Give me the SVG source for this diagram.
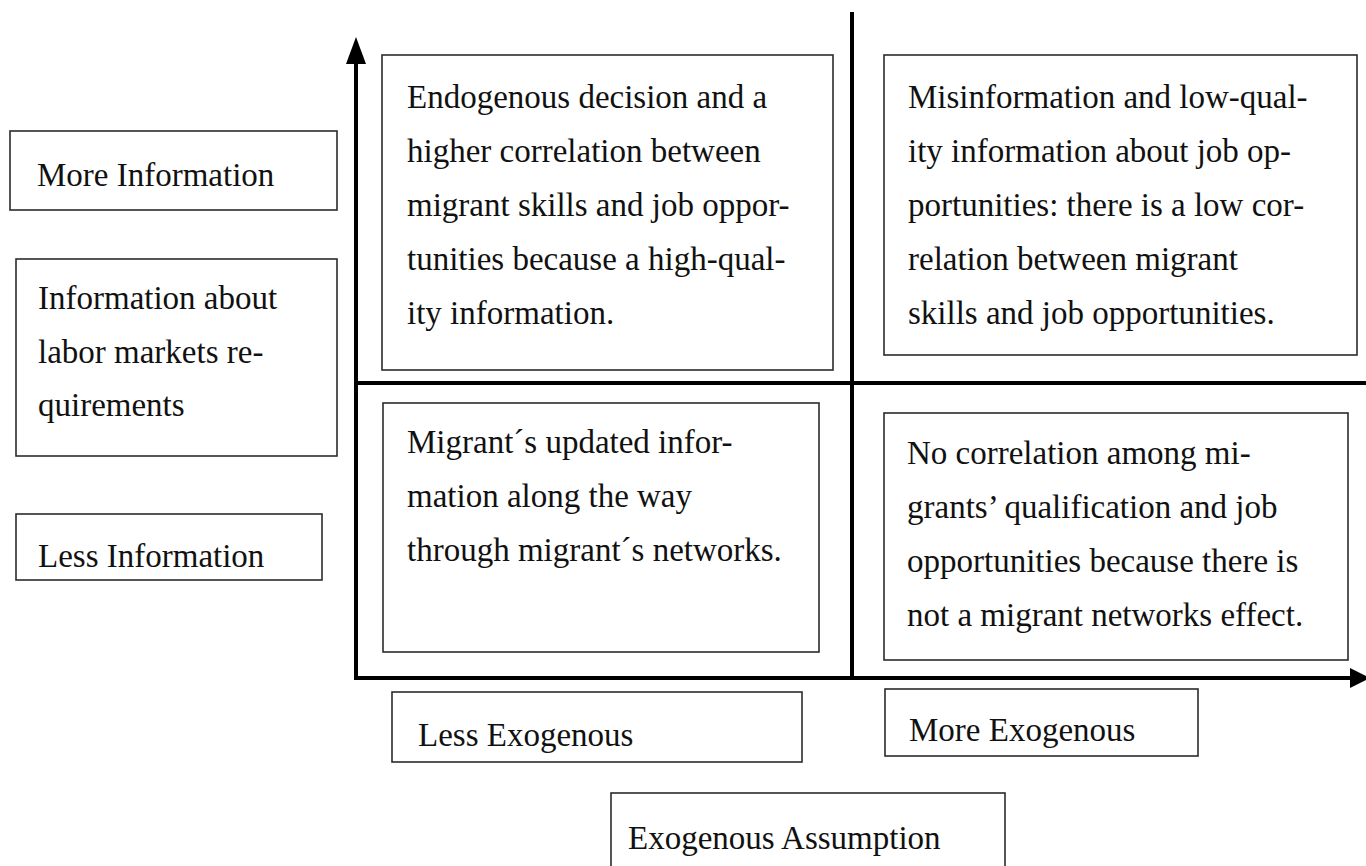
<svg xmlns="http://www.w3.org/2000/svg" width="1366" height="866" viewBox="0 0 1366 866">
<style>
.box{fill:#fff;stroke:#2b2b2b;stroke-width:1.6}
.t{font-family:"Liberation Serif","Times New Roman",serif;font-size:33px;fill:#111}
.ax{stroke:#000;stroke-width:4;fill:none}
</style>
<rect width="1366" height="866" fill="#fff"/>
<g id="connectors">
<line class="ax" x1="356" y1="680" x2="356" y2="62"/>
<polygon points="356,37 346,64 366,64" fill="#000"/>
<line class="ax" x1="354" y1="678" x2="1352" y2="678"/>
<polygon points="1370,678 1350,668 1350,688" fill="#000"/>
<line class="ax" x1="852" y1="12" x2="852" y2="678"/>
<line class="ax" x1="356" y1="383" x2="1366" y2="383"/>
</g>
<g id="more-information">
<rect class="box" x="10" y="131" width="327" height="79"/>
<text class="t" x="37" y="186">More Information</text>
</g>
<g id="information-about">
<rect class="box" x="16" y="259" width="321" height="197"/>
<text class="t" x="38" y="309">Information about</text>
<text class="t" x="38" y="363">labor markets re-</text>
<text class="t" x="38" y="416">quirements</text>
</g>
<g id="less-information">
<rect class="box" x="16" y="514" width="306" height="66"/>
<text class="t" x="38" y="567">Less Information</text>
</g>
<g id="quadrant-tl">
<rect class="box" x="382" y="55" width="451" height="315"/>
<text class="t" x="407" y="108">Endogenous decision  and a</text>
<text class="t" x="407" y="162">higher correlation between</text>
<text class="t" x="407" y="216">migrant skills and job oppor-</text>
<text class="t" x="407" y="270">tunities because a high-qual-</text>
<text class="t" x="407" y="324">ity information.</text>
</g>
<g id="quadrant-tr">
<rect class="box" x="884" y="55" width="473" height="300"/>
<text class="t" x="908" y="108">Misinformation and low-qual-</text>
<text class="t" x="908" y="162">ity information about job op-</text>
<text class="t" x="908" y="216">portunities: there is a low cor-</text>
<text class="t" x="908" y="270">relation between migrant</text>
<text class="t" x="908" y="324">skills and job opportunities.</text>
</g>
<g id="quadrant-bl">
<rect class="box" x="383" y="403" width="436" height="249"/>
<text class="t" x="407" y="453">Migrant´s updated infor-</text>
<text class="t" x="407" y="507">mation along the way</text>
<text class="t" x="407" y="561">through migrant´s networks.</text>
</g>
<g id="quadrant-br">
<rect class="box" x="884" y="413" width="464" height="247"/>
<text class="t" x="907" y="464">No correlation among mi-</text>
<text class="t" x="907" y="518">grants’ qualification and job</text>
<text class="t" x="907" y="572">opportunities because there is</text>
<text class="t" x="907" y="626">not a migrant networks effect.</text>
</g>
<g id="less-exogenous">
<rect class="box" x="392" y="692" width="410" height="70"/>
<text class="t" x="418" y="746">Less Exogenous</text>
</g>
<g id="more-exogenous">
<rect class="box" x="885" y="689" width="313" height="67"/>
<text class="t" x="909" y="741">More Exogenous</text>
</g>
<g id="exogenous-assumption">
<rect class="box" x="611" y="793" width="394" height="80"/>
<text class="t" x="628" y="849">Exogenous Assumption</text>
</g>
</svg>
